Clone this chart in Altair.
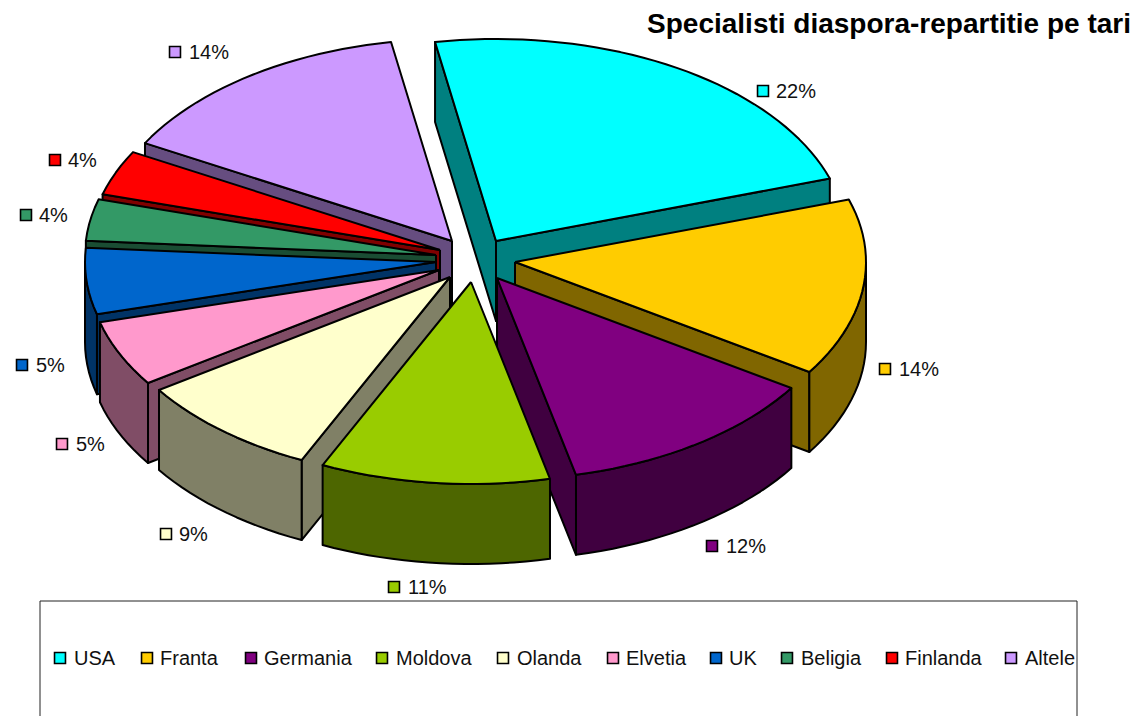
import math
import altair as alt
import pandas as pd

# --- chart values ---
categories = ["USA", "Franta", "Germania", "Moldova", "Olanda", "Elvetia", "UK", "Beligia", "Finlanda", "Altele"]
percent_labels = ["22%", "14%", "12%", "11%", "9%", "5%", "5%", "4%", "4%", "14%"]
# drawn share of each slice (%), as measured on the ellipse
shares = [22.78, 14.17, 12.22, 10.56, 8.61, 5.28, 5.28, 3.33, 3.61, 14.17]
top_colors = ["#00FFFF", "#FFCC00", "#800080", "#99CC00", "#FFFFCC", "#FF99CC", "#0066CC", "#339966", "#FF0000", "#CC99FF"]
side_colors = ["#008080", "#806600", "#400040", "#4D6600", "#808066", "#804D66", "#003366", "#1A4D33", "#800000", "#664D80"]

# --- layout, in page pixels ---
apex_x = [496, 515, 497, 471, 450, 439, 436, 436, 440, 452]
apex_y = [241, 262, 278, 282, 277, 270, 262, 255, 250, 241]
label_x = [776, 899, 726, 408, 179, 76, 36, 39, 68, 189]
label_y = [92, 370, 547, 588, 535, 445, 366, 216, 161, 53]
marker_x = [763, 885, 712, 394, 166, 62, 22, 26, 55, 175]
marker_y = [91, 369, 546, 587, 534, 444, 365, 215, 160, 52]
legend_text_x = [74, 160, 264, 396, 517, 626, 729, 801, 905, 1025]
legend_marker_x = [60, 147, 251, 382, 503, 613, 716, 787, 892, 1011]
legend_y = 658
RX, RY, DEPTH = 351, 202, 80
START_ANGLE = -10
paint_order = [0, 9, 8, 7, 6, 1, 5, 2, 4, 3]

span_total = sum(shares)
starts = []
angle = START_ANGLE
for s in shares:
    starts.append(angle)
    angle += s / span_total * 360


def arc(i, a0, a1):
    n = max(3, int((a1 - a0) / 2))
    out = []
    for k in range(n + 1):
        t = math.radians(a0 + (a1 - a0) * k / n)
        out.append((apex_x[i] + RX * math.sin(t), apex_y[i] - RY * math.cos(t)))
    return out


rows = []
pid = 0


def add(points, color):
    global pid
    closed = points + [points[0]]
    for k, (x, y) in enumerate(closed):
        rows.append({"px": x, "py": y, "poly": f"p{pid:03d}", "k": k, "c": color})
    pid += 1


for i in paint_order:
    a0 = starts[i]
    a1 = a0 + shares[i] / span_total * 360
    pts = arc(i, a0, a1)
    ax, ay = apex_x[i], apex_y[i]
    # only the faces that look towards the viewer are painted
    if math.sin(math.radians(a0)) < 0:
        ex, ey = pts[0]
        add([(ax, ay), (ex, ey), (ex, ey + DEPTH), (ax, ay + DEPTH)], side_colors[i])
    if math.sin(math.radians(a1)) > 0:
        ex, ey = pts[-1]
        add([(ax, ay), (ex, ey), (ex, ey + DEPTH), (ax, ay + DEPTH)], side_colors[i])
    f0, f1 = max(a0, 90), min(a1, 270)
    if f1 > f0:
        front = arc(i, f0, f1)
        add(front + [(x, y + DEPTH) for x, y in reversed(front)], side_colors[i])
    add([(ax, ay)] + pts, top_colors[i])

poly_df = pd.DataFrame(rows)

X = alt.X("px:Q", scale=alt.Scale(domain=[8, 1132], nice=False, zero=False), axis=None)
Y = alt.Y("py:Q", scale=alt.Scale(domain=[8, 716], reverse=True, nice=False, zero=False), axis=None)

pie = alt.Chart(poly_df).mark_line(stroke="black", strokeWidth=2, strokeJoin="round", fill="white", interpolate="linear").encode(
    x=X, y=Y,
    detail="poly:N",
    order="k:Q",
    fill=alt.Fill("c:N", scale=None, legend=None),
)

labels_df = pd.DataFrame({"px": label_x, "py": label_y, "t": percent_labels})
labels = alt.Chart(labels_df).mark_text(align="left", baseline="middle", fontSize=20, font="Liberation Sans", color="#111111").encode(
    x=X, y=Y, text="t:N"
)

markers_df = pd.DataFrame({"px": marker_x, "py": marker_y, "c": top_colors})
markers = alt.Chart(markers_df).mark_square(size=120, stroke="black", strokeWidth=1.6, opacity=1).encode(
    x=X, y=Y, fill=alt.Fill("c:N", scale=None, legend=None)
)

box_df = pd.DataFrame({"px": [40, 40, 1077, 1077], "py": [716, 601, 601, 716], "k": [0, 1, 2, 3]})
box = alt.Chart(box_df).mark_line(stroke="#222222", strokeWidth=1, clip=True).encode(x=X, y=Y, order="k:Q")

leg_df = pd.DataFrame({"px": legend_text_x, "py": [legend_y + 1] * 10, "t": categories})
leg_text = alt.Chart(leg_df).mark_text(align="left", baseline="middle", fontSize=20, font="Liberation Sans", color="#111111").encode(
    x=X, y=Y, text="t:N"
)
leg_mark_df = pd.DataFrame({"px": legend_marker_x, "py": [legend_y] * 10, "c": top_colors})
leg_marks = alt.Chart(leg_mark_df).mark_square(size=120, stroke="black", strokeWidth=1.6, opacity=1).encode(
    x=X, y=Y, fill=alt.Fill("c:N", scale=None, legend=None)
)

title_df = pd.DataFrame({"px": [1131], "py": [25], "t": ["Specialisti diaspora-repartitie pe tari"]})
title = alt.Chart(title_df).mark_text(align="right", baseline="middle", fontSize=28, fontWeight="bold", font="Liberation Sans", color="black").encode(
    x=X, y=Y, text="t:N"
)

chart = alt.layer(pie, labels, markers, box, leg_text, leg_marks, title).properties(
    width=1124, height=708, padding=0, autosize=alt.AutoSizeParams(type="none")
).configure_view(stroke=None)

chart.save("out.html", embed_options={"renderer": "svg", "actions": False})
